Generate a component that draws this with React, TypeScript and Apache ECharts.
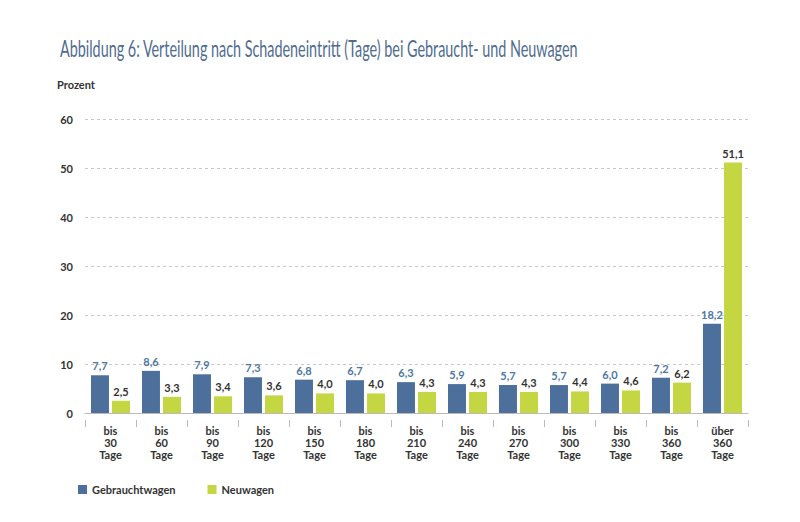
import React, { useEffect, useRef } from "react";
import * as echarts from "echarts";

const categories = [
  "bis\n30\nTage", "bis\n60\nTage", "bis\n90\nTage", "bis\n120\nTage", "bis\n150\nTage",
  "bis\n180\nTage", "bis\n210\nTage", "bis\n240\nTage", "bis\n270\nTage", "bis\n300\nTage",
  "bis\n330\nTage", "bis\n360\nTage", "über\n360\nTage",
];
const gebrauchtwagen = [7.7, 8.6, 7.9, 7.3, 6.8, 6.7, 6.3, 5.9, 5.7, 5.7, 6.0, 7.2, 18.2];
const neuwagen = [2.5, 3.3, 3.4, 3.6, 4.0, 4.0, 4.3, 4.3, 4.3, 4.4, 4.6, 6.2, 51.1];

const TITLE = "Abbildung 6: Verteilung nach Schadeneintritt (Tage) bei Gebraucht- und Neuwagen";
const FONT = "Lato, 'Liberation Sans', sans-serif";
const BLUE = "#4d6f9b";
const GREEN = "#c4d641";
const fmt = (p: any) => Number(p.value).toFixed(1).replace(".", ",");

export default function App() {
  const ref = useRef<HTMLDivElement>(null);
  useEffect(() => {
    if (!ref.current) return;
    const chart = echarts.init(ref.current, null, { renderer: "svg" });
    chart.setOption({
      animation: false,
      backgroundColor: "#ffffff",
      graphic: [
        {
          type: "text",
          x: 60,
          y: 37,
          scaleX: 0.625,
          style: { text: TITLE, fontFamily: FONT, fontSize: 23, fontWeight: "normal", fill: "#4f6c90" },
        },
        {
          type: "text",
          x: 57,
          y: 79,
          style: { text: "Prozent", fontFamily: FONT, fontSize: 11, fontWeight: "bold", fill: "#333" },
        },
      ],
      legend: {
        left: 73,
        top: 479,
        itemWidth: 9,
        itemHeight: 9,
        itemGap: 32,
        icon: "rect",
        textStyle: { fontFamily: FONT, fontSize: 11, fontWeight: "bold", color: "#333" },
        data: ["Gebrauchtwagen", "Neuwagen"],
      },
      grid: { left: 85, right: 52, top: 119, bottom: 109 },
      xAxis: [
        {
          type: "category",
          data: categories,
          axisLine: { show: true, lineStyle: { color: "#bbbbbb", width: 1 } },
          axisTick: { show: false },
          axisLabel: { show: false },
        },
        {
          type: "category",
          data: categories,
          position: "bottom",
          offset: 7,
          axisLine: { show: false },
          axisTick: { show: true, length: 7, lineStyle: { color: "#bbbbbb" } },
          axisLabel: {
            margin: 4,
            fontFamily: FONT,
            fontSize: 11,
            fontWeight: "bold",
            color: "#333",
            lineHeight: 12,
          },
        },
      ],
      yAxis: {
        type: "value",
        min: 0,
        max: 60,
        interval: 10,
        axisLine: { show: false },
        axisTick: { show: false },
        axisLabel: { margin: 12, fontFamily: FONT, fontSize: 11, fontWeight: "bold", color: "#333" },
        splitLine: { lineStyle: { type: [3, 3], color: "#c8c8c8" } },
      },
      series: [
        {
          name: "Gebrauchtwagen",
          type: "bar",
          data: gebrauchtwagen,
          barWidth: 18,
          barGap: "17%",
          itemStyle: { color: BLUE },
          label: {
            show: true,
            position: "top",
            distance: 4,
            formatter: fmt,
            fontFamily: FONT,
            fontSize: 11,
            fontWeight: "bold",
            color: "#4e77a3",
          },
        },
        {
          name: "Neuwagen",
          type: "bar",
          data: neuwagen,
          barWidth: 18,
          itemStyle: { color: GREEN },
          label: {
            show: true,
            position: "top",
            distance: 4,
            formatter: fmt,
            fontFamily: FONT,
            fontSize: 11,
            fontWeight: "bold",
            color: "#333",
          },
        },
      ],
    });
    return () => chart.dispose();
  }, []);
  return (
    <div
      ref={ref}
      style={{ position: "fixed", left: 0, top: 0, width: 800, height: 522, background: "#fff" }}
    />
  );
}
